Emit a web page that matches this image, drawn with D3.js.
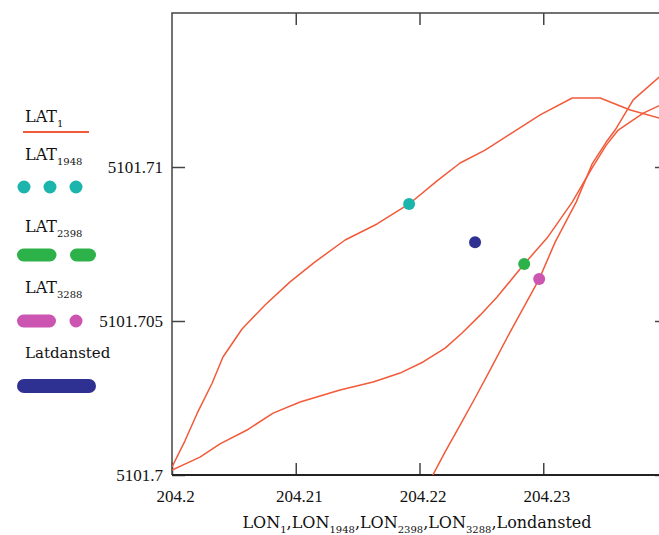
<!DOCTYPE html>
<html>
<head>
<meta charset="utf-8">
<script src="https://cdn.jsdelivr.net/npm/d3@7"></script>
<style>
  body { margin: 0; background: #fff; }
  svg { display: block; }
  .tick text { font-family: "Liberation Serif", serif; font-size: 17px; fill: #111; }
  .lbl { font-family: "DejaVu Serif", serif; fill: #111; }
</style>
</head>
<body>
<div id="chart"></div>
<script>
// LAT_1 vs LON_1 trajectory (three visible pieces)
const lon1a = [204.2, 204.20105, 204.20202, 204.20323, 204.20412, 204.20566, 204.20752, 204.20954, 204.21156, 204.21399, 204.21657, 204.21916, 204.22142, 204.22328, 204.2253, 204.22732, 204.22975, 204.23234, 204.2346, 204.23703, 204.24107];
const lat1a = [5101.70026, 5101.70111, 5101.70199, 5101.70297, 5101.70383, 5101.70474, 5101.70552, 5101.70627, 5101.70692, 5101.70763, 5101.70815, 5101.7088, 5101.70955, 5101.71013, 5101.71055, 5101.71107, 5101.71169, 5101.71224, 5101.71224, 5101.71185, 5101.7114];
const lon1b = [204.2, 204.20226, 204.20388, 204.20606, 204.20817, 204.21035, 204.21358, 204.21625, 204.21843, 204.22029, 204.22207, 204.22344, 204.2249, 204.22627, 204.22846, 204.23032, 204.23234, 204.23395, 204.23509, 204.23606, 204.23808, 204.24107];
const lat1b = [5101.70016, 5101.70058, 5101.70101, 5101.70146, 5101.70201, 5101.70237, 5101.70276, 5101.70302, 5101.70331, 5101.70367, 5101.70412, 5101.70461, 5101.70519, 5101.70578, 5101.70685, 5101.7077, 5101.70886, 5101.70997, 5101.71071, 5101.7112, 5101.71175, 5101.71231];
const lon1c = [204.2207, 204.22207, 204.22328, 204.22449, 204.22571, 204.22732, 204.22967, 204.23096, 204.23266, 204.23395, 204.23509, 204.23581, 204.23727, 204.23937, 204.24107];
const lat1c = [5101.69971, 5101.70075, 5101.70162, 5101.7025, 5101.70341, 5101.70464, 5101.70636, 5101.70756, 5101.70886, 5101.7101, 5101.71081, 5101.7112, 5101.71218, 5101.71292, 5101.71341];

// single marked points
const pointNames = ["1948", "dansted", "2398", "3288"];
const pointLon = [204.21916, 204.22449, 204.22846, 204.22967];
const pointLat = [5101.7088, 5101.70756, 5101.70685, 5101.70636];
const pointColors = ["#1bb5ad", "#2e3192", "#2db24a", "#cc55b2"];

const xTicks = [204.2, 204.21, 204.22, 204.23];
const yTicks = [5101.7, 5101.705, 5101.71];
const xDomain = [204.2, 204.24];
const yDomain = [5101.7, 5101.715];

const width = 659, height = 535;
const plot = { left: 172, right: 667, top: 13, bottom: 475 };
const red = "#f25a3a";

const svg = d3.select("#chart").append("svg")
  .attr("width", width).attr("height", height);

const x = d3.scaleLinear().domain(xDomain).range([plot.left, plot.right]);
const y = d3.scaleLinear().domain(yDomain).range([plot.bottom, plot.top]);

svg.append("clipPath").attr("id", "clip")
  .append("rect")
  .attr("x", plot.left).attr("y", plot.top)
  .attr("width", plot.right - plot.left).attr("height", plot.bottom - plot.top);

// axes: ticks point inward, labels only bottom & left
const gx = svg.append("g").attr("transform", `translate(0,${plot.bottom})`)
  .call(d3.axisBottom(x).tickValues(xTicks).tickSizeInner(-12).tickSizeOuter(0)
    .tickPadding(15).tickFormat(d => String(+d.toFixed(2))));
gx.selectAll("text").attr("dx", 3);

const gy = svg.append("g").attr("transform", `translate(${plot.left},0)`)
  .call(d3.axisLeft(y).tickValues(yTicks).tickSizeInner(-13).tickSizeOuter(0)
    .tickPadding(9).tickFormat(d => String(+d.toFixed(3))));

svg.append("g").attr("transform", `translate(0,${plot.top})`)
  .call(d3.axisTop(x).tickValues(xTicks.slice(1)).tickSizeInner(-12).tickSizeOuter(0).tickFormat(""));
svg.append("g").attr("transform", `translate(${plot.right},0)`)
  .call(d3.axisRight(y).tickValues(yTicks).tickSizeInner(-12).tickSizeOuter(0).tickFormat(""));

svg.selectAll(".domain").remove();
svg.selectAll(".tick line").attr("stroke", "#444").attr("stroke-width", 1.5);

// frame
svg.append("path")
  .attr("d", `M${plot.left},${plot.bottom}V${plot.top}H${plot.right}V${plot.bottom}`)
  .attr("fill", "none").attr("stroke", "#444").attr("stroke-width", 1.5);
svg.append("line")
  .attr("x1", plot.left).attr("x2", plot.right)
  .attr("y1", plot.bottom).attr("y2", plot.bottom)
  .attr("stroke", "#222").attr("stroke-width", 2);

// LAT_1 pieces (plain polylines, like the original)
const line = d3.line().x(d => x(d[0])).y(d => y(d[1]));
const pieces = [
  d3.zip(lon1a, lat1a),
  d3.zip(lon1b, lat1b),
  d3.zip(lon1c, lat1c)
];
svg.append("g").attr("clip-path", "url(#clip)")
  .selectAll("path").data(pieces).join("path")
  .attr("d", line)
  .attr("fill", "none").attr("stroke", red).attr("stroke-width", 1.5)
  .attr("stroke-linejoin", "round");

// marked points
svg.append("g").selectAll("circle").data(pointLon).join("circle")
  .attr("cx", d => x(d))
  .attr("cy", (d, i) => y(pointLat[i]))
  .attr("r", 6)
  .attr("fill", (d, i) => pointColors[i]);

// legend
const leg = svg.append("g");
function subLabel(g, xPos, yPos, main, sub, size) {
  const t = g.append("text").attr("class", "lbl")
    .attr("x", xPos).attr("y", yPos).attr("font-size", size);
  t.append("tspan").text(main);
  if (sub) t.append("tspan").attr("font-size", 10).attr("dy", 5).text(sub);
  return t;
}
subLabel(leg, 25, 122, "LAT", "1", 16);
leg.append("line").attr("x1", 23).attr("x2", 89).attr("y1", 132).attr("y2", 132)
  .attr("stroke", red).attr("stroke-width", 2);

subLabel(leg, 25, 160, "LAT", "1948", 16);
leg.append("line").attr("x1", 24).attr("x2", 90).attr("y1", 187).attr("y2", 187)
  .attr("stroke", pointColors[0]).attr("stroke-width", 13)
  .attr("stroke-linecap", "round").attr("stroke-dasharray", "0 26");

subLabel(leg, 25, 232, "LAT", "2398", 16);
leg.append("line").attr("x1", 23.5).attr("x2", 89.5).attr("y1", 255).attr("y2", 255)
  .attr("stroke", pointColors[2]).attr("stroke-width", 13)
  .attr("stroke-linecap", "round").attr("stroke-dasharray", "26.5 26.5");

subLabel(leg, 25, 293, "LAT", "3288", 16);
leg.append("line").attr("x1", 23.5).attr("x2", 90).attr("y1", 321).attr("y2", 321)
  .attr("stroke", pointColors[3]).attr("stroke-width", 13)
  .attr("stroke-linecap", "round").attr("stroke-dasharray", "26 26.5 0 40");

subLabel(leg, 25, 358, "Latdansted", null, 15);
leg.append("line").attr("x1", 24).attr("x2", 89).attr("y1", 386).attr("y2", 386)
  .attr("stroke", pointColors[1]).attr("stroke-width", 14)
  .attr("stroke-linecap", "round");

// x axis title
const title = svg.append("text").attr("class", "lbl")
  .attr("x", 417).attr("y", 528).attr("text-anchor", "middle").attr("font-size", 16);
const parts = [["LON", "1"], ["LON", "1948"], ["LON", "2398"], ["LON", "3288"], ["Londansted", null]];
parts.forEach((p, i) => {
  title.append("tspan").attr("dy", i === 0 ? 0 : -5).text((i ? "," : "") + p[0]);
  if (p[1]) title.append("tspan").attr("font-size", 10).attr("dy", 5).text(p[1]);
});
</script>
</body>
</html>
